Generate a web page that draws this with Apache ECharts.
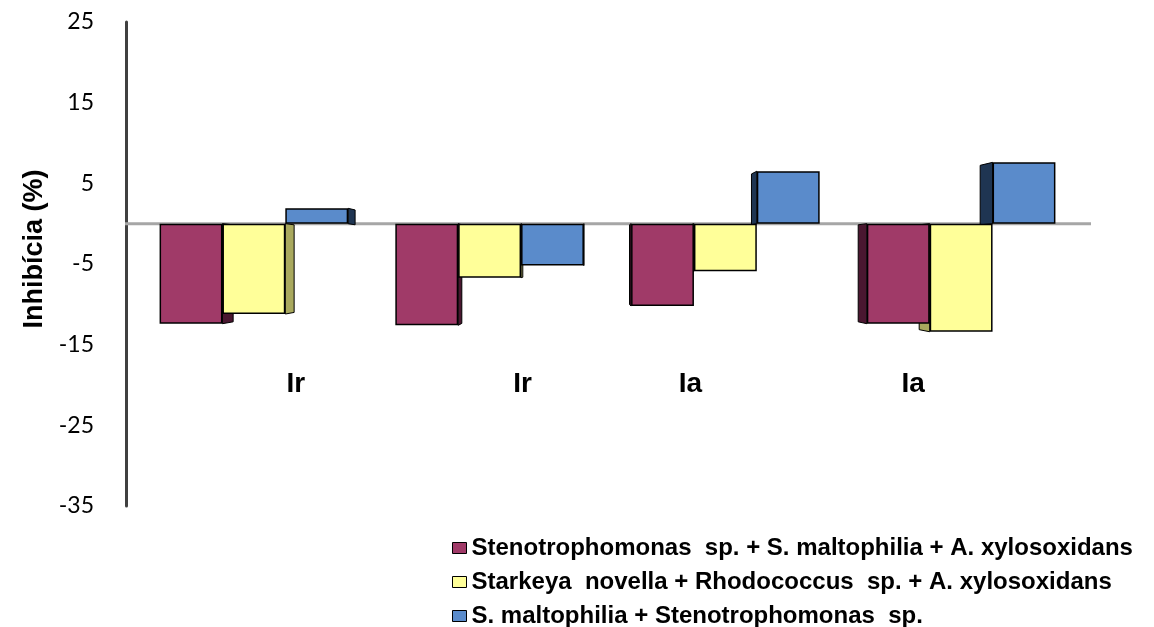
<!DOCTYPE html>
<html>
<head>
<meta charset="utf-8">
<script src="https://cdn.jsdelivr.net/npm/echarts@6/dist/echarts.min.js"></script>
<style>
  html, body { margin: 0; padding: 0; background: #ffffff; }
  #chart { width: 1154px; height: 627px; }
</style>
</head>
<body>
<div id="chart"></div>
<script>
// Inhibition (%) by consortium, four groups
const categories = ['Ir', 'Ir', 'Ia', 'Ia'];
const seriesNames = [
  'Stenotrophomonas  sp. + S. maltophilia + A. xylosoxidans',
  'Starkeya  novella + Rhodococcus  sp. + A. xylosoxidans',
  'S. maltophilia + Stenotrophomonas  sp.'
];
const stenoMix = [-12.4, -12.6, -10.2, -12.4];
const starkeyaMix = [-11.2, -6.7, -5.9, -13.4];
const maltoMix = [1.9, -5.2, 6.5, 7.6];
const yMin = -35;
const yMax = 25;
const yStep = 10;

const seriesValues = [stenoMix, starkeyaMix, maltoMix];

// styling
const faceColors = ['#A03A68', '#FFFF99', '#5A8BCB'];
const sideColors = ['#4A1730', '#A9A95E', '#1F3552'];
const labelShift = [42, 33, -35, -48];
const CAT_GAP = 0.2;

// data for the depth faces: [category index, series index, value]
const sideData = [];
seriesValues.forEach((vals, s) => vals.forEach((v, c) => sideData.push([c, s, v])));

// side face of each bar, receding toward a vanishing point near the middle
function renderSide(params, api) {
  const cat = api.value(0), s = api.value(1), v = api.value(2);
  const band = api.size([1, 0])[0];
  const groupW = band * (1 - CAT_GAP);
  const barW = groupW / 3;
  const cx = api.coord([cat, 0])[0];
  const x0 = cx - groupW / 2 + s * barW;
  const x1 = x0 + barW;
  const yV = api.coord([cat, v])[1];
  const yZ = api.coord([cat, 0])[1];
  const cs = params.coordSys;
  const vx = cs.x + cs.width * 0.47;
  const vy = yZ + 38;
  const k = 0.03;
  const xe = (x0 + x1) / 2 < vx ? x1 : x0;
  const top = Math.min(yV, yZ), bot = Math.max(yV, yZ);
  const back = (x, y) => [x + (vx - x) * k, y + (vy - y) * k];
  return {
    type: 'polygon',
    shape: { points: [[xe, top], [xe, bot], back(xe, bot), back(xe, top)] },
    style: { fill: sideColors[s], stroke: '#000000', lineWidth: 1 }
  };
}

// baseline at zero, running slightly past the plot on both sides
function renderFloor(params, api) {
  const cs = params.coordSys;
  const y = api.coord([0, 0])[1];
  return {
    type: 'line',
    shape: { x1: cs.x - 11, y1: y, x2: cs.x + cs.width + 12, y2: y },
    style: { stroke: '#A6A6A6', lineWidth: 3 }
  };
}

const richCats = {};
labelShift.forEach((d, i) => {
  richCats['c' + i] = {
    fontFamily: 'Liberation Sans, Arial, sans-serif',
    fontWeight: 'bold',
    fontSize: 28,
    color: '#000000',
    padding: d >= 0 ? [0, 0, 0, 2 * d] : [0, -2 * d, 0, 0]
  };
});

const chart = echarts.init(document.getElementById('chart'), null, { renderer: 'canvas' });

chart.setOption({
  animation: false,
  backgroundColor: '#ffffff',
  grid: { left: 136, right: 75, top: 22, bottom: 121, outerBoundsMode: 'none', containLabel: false },
  legend: {
    data: seriesNames,
    orient: 'vertical',
    left: 452,
    top: 536,
    width: 700,
    height: 110,
    padding: 0,
    icon: 'rect',
    itemWidth: 14,
    itemHeight: 11,
    itemGap: 10,
    itemStyle: { borderColor: '#000000', borderWidth: 1 },
    textStyle: {
      fontFamily: 'Liberation Sans, Arial, sans-serif',
      fontWeight: 'bold',
      fontSize: 24,
      color: '#000000',
      lineHeight: 22
    }
  },
  xAxis: {
    type: 'category',
    data: categories,
    axisLine: { show: false, onZero: false },
    axisTick: { show: false },
    axisLabel: {
      margin: -136,
      formatter: (val, idx) => '{c' + idx + '|' + val + '}',
      rich: richCats
    },
    splitLine: { show: false }
  },
  yAxis: {
    type: 'value',
    min: yMin,
    max: yMax,
    interval: yStep,
    offset: 10,
    name: 'Inhibícia (%)',
    nameLocation: 'middle',
    nameGap: 78,
    nameTextStyle: {
      fontFamily: 'Liberation Sans, Arial, sans-serif',
      fontWeight: 'bold',
      fontSize: 27,
      color: '#000000',
      padding: [0, 0, 0, 30]
    },
    axisLine: { show: true, lineStyle: { color: '#404040', width: 3 } },
    axisTick: { show: false },
    splitLine: { show: false },
    axisLabel: {
      margin: 32,
      fontFamily: 'Lato, sans-serif',
      fontSize: 23,
      color: '#000000'
    }
  },
  series: [
    {
      type: 'custom',
      name: 'floor',
      silent: true,
      z: 1,
      renderItem: renderFloor,
      data: [[0, 0]],
      encode: { x: 0, y: 1 }
    },
    {
      type: 'custom',
      name: 'depth',
      silent: true,
      z: 2,
      renderItem: renderSide,
      data: sideData,
      encode: { x: 0, y: 2 }
    }
  ].concat(seriesValues.map((vals, i) => ({
    type: 'bar',
    name: seriesNames[i],
    data: vals,
    z: 3,
    barGap: '0%',
    barCategoryGap: (CAT_GAP * 100) + '%',
    itemStyle: { color: faceColors[i], borderColor: '#000000', borderWidth: 1.5 }
  })))
});
</script>
</body>
</html>
